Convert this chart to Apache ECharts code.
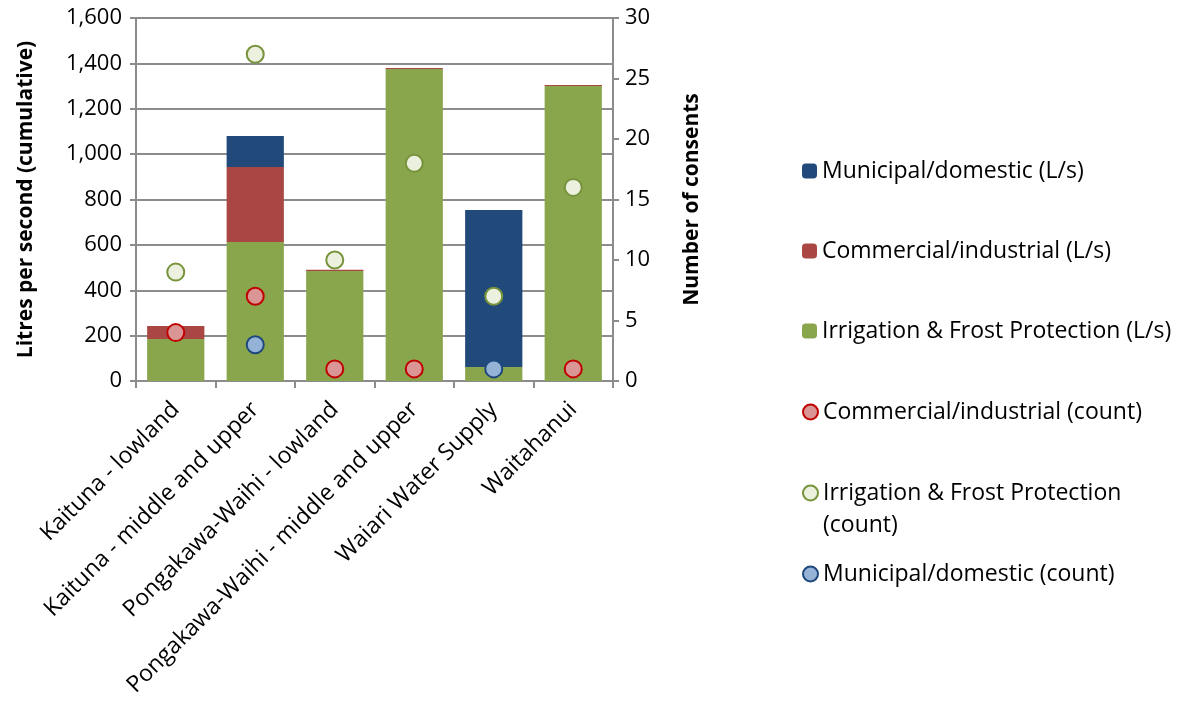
<!DOCTYPE html>
<html>
<head>
<meta charset="utf-8">
<script src="https://cdn.jsdelivr.net/npm/echarts@6/dist/echarts.min.js"></script>
<style>
  html, body { margin: 0; padding: 0; background: #fff; }
  #chart { width: 1197px; height: 706px; }
</style>
</head>
<body>
<div id="chart"></div>
<script>
// catchments
const categories = [
    'Kaituna - lowland',
    'Kaituna - middle and upper',
    'Pongakawa-Waihi - lowland',
    'Pongakawa-Waihi - middle and upper',
    'Waiari Water Supply',
    'Waitahanui'
];

// litres per second (stacked)
const irrigationLs = [185, 613, 485, 1375, 62, 1300];
const commercialLs = [57, 330, 5, 5, 0, 5];
const municipalLs = [0, 137, 0, 0, 692, 0];

// number of consents
const commercialCount = [4, 7, 1, 1, null, 1];
const irrigationCount = [9, 27, 10, 18, 7, 16];
const municipalCount = [null, 3, null, null, 1, null];

const leftTicks = { min: 0, max: 1600, interval: 200 };
const rightTicks = { min: 0, max: 30, interval: 5 };

const FONT = 'Open Sans';
const grey = '#8c8c8c';

const legendNames = [
    'Municipal/domestic (L/s)',
    'Commercial/industrial (L/s)',
    'Irrigation & Frost Protection (L/s)',
    'Commercial/industrial (count)',
    'Irrigation & Frost Protection (count)',
    'Municipal/domestic (count)'
];
const legendTops = [150, 230, 310, 391, 440, 553];

const chart = echarts.init(document.getElementById('chart'));

function scatterSeries(name, data, fill, border) {
    return {
        name: name,
        type: 'scatter',
        yAxisIndex: 1,
        data: data,
        symbol: 'circle',
        symbolSize: 17,
        z: 5,
        itemStyle: { color: fill, borderColor: border, borderWidth: 2, opacity: 1 }
    };
}

const option = {
    animation: false,
    textStyle: { fontFamily: FONT },
    legend: legendNames.map(function (n, i) {
        const multi = n === 'Irrigation & Frost Protection (count)';
        return {
            orient: 'vertical',
            left: 797,
            top: legendTops[i],
            itemWidth: 15,
            itemHeight: 15,
            itemGap: 0,
            data: [n],
            // blank first line keeps the icon level with the first text line
            formatter: multi ? function () { return '\nIrrigation & Frost Protection\n(count)'; } : '{name}',
            textStyle: {
                fontFamily: FONT,
                fontSize: 23,
                color: '#000',
                lineHeight: 32
            }
        };
    }),
    grid: { left: 136, right: 584, top: 18, bottom: 325, containLabel: false },
    xAxis: {
        type: 'category',
        data: categories,
        boundaryGap: true,
        axisLine: { lineStyle: { color: grey, width: 2 } },
        axisTick: { show: true, alignWithLabel: false, length: 7, lineStyle: { color: grey, width: 2 } },
        axisLabel: {
            interval: 0,
            rotate: 45,
            fontFamily: FONT,
            fontSize: 23,
            color: '#000',
            margin: 25
        }
    },
    yAxis: [
        {
            type: 'value',
            min: leftTicks.min,
            max: leftTicks.max,
            interval: leftTicks.interval,
            name: 'Litres per second (cumulative)',
            nameLocation: 'middle',
            nameRotate: 90,
            nameGap: 99,
            nameTextStyle: { fontFamily: FONT, fontSize: 21, fontWeight: 'bold', color: '#000' },
            axisLine: { show: true, lineStyle: { color: grey, width: 2 } },
            axisTick: { show: true, length: 6, lineStyle: { color: grey, width: 2 } },
            axisLabel: {
                fontFamily: FONT,
                fontSize: 22,
                color: '#000',
                margin: 14,
                formatter: function (v) { return v.toLocaleString('en-US'); }
            },
            splitLine: { show: true, lineStyle: { color: grey, width: 2 } }
        },
        {
            type: 'value',
            position: 'right',
            min: rightTicks.min,
            max: rightTicks.max,
            interval: rightTicks.interval,
            name: 'Number of consents',
            nameLocation: 'middle',
            nameRotate: 90,
            nameGap: 69,
            nameTextStyle: { fontFamily: FONT, fontSize: 21, fontWeight: 'bold', color: '#000' },
            axisLine: { show: true, lineStyle: { color: grey, width: 2 } },
            axisTick: { show: true, length: 6, lineStyle: { color: grey, width: 2 } },
            axisLabel: { fontFamily: FONT, fontSize: 22, color: '#000', margin: 12 },
            splitLine: { show: false }
        }
    ],
    series: [
        {
            name: 'Irrigation & Frost Protection (L/s)',
            type: 'bar',
            stack: 'ls',
            data: irrigationLs,
            barCategoryGap: '28%',
            itemStyle: { color: '#8aa64d' }
        },
        {
            name: 'Commercial/industrial (L/s)',
            type: 'bar',
            stack: 'ls',
            data: commercialLs,
            itemStyle: { color: '#aa4745' }
        },
        {
            name: 'Municipal/domestic (L/s)',
            type: 'bar',
            stack: 'ls',
            data: municipalLs,
            itemStyle: { color: '#214a7b' }
        },
        scatterSeries('Commercial/industrial (count)', commercialCount, '#da9694', '#c00000'),
        scatterSeries('Irrigation & Frost Protection (count)', irrigationCount, '#ebf1de', '#77933c'),
        scatterSeries('Municipal/domestic (count)', municipalCount, '#95b3d7', '#1f497d')
    ]
};

chart.setOption(option);
</script>
</body>
</html>
